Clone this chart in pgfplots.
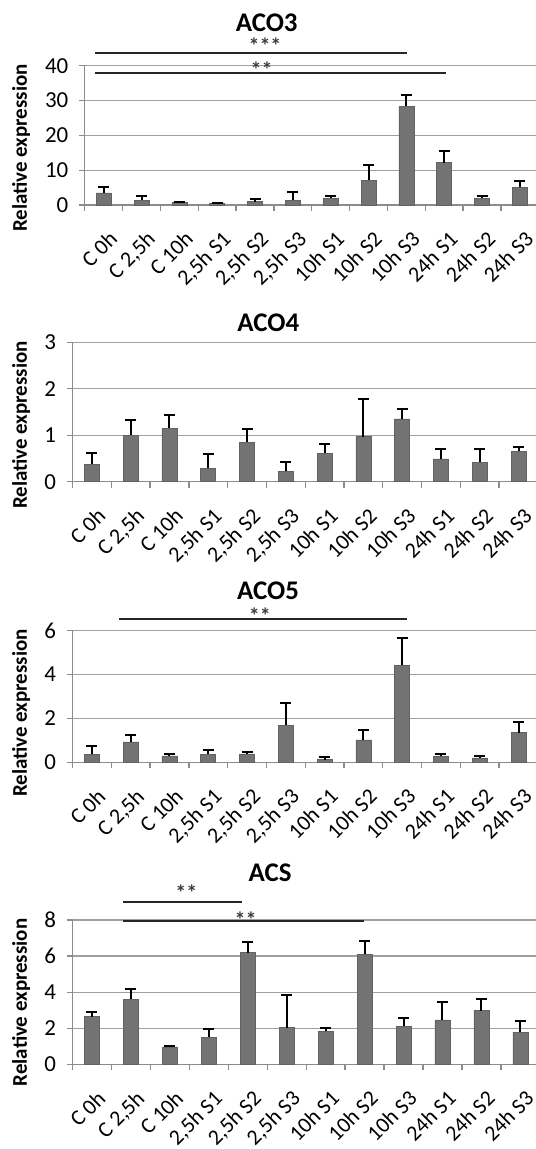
\documentclass[border=0pt]{standalone}
\usepackage{fontspec}
\setmainfont{Carlito}
\usepackage{pgfplots}
\pgfplotsset{compat=1.18}
\usepackage{pgfplotstable}

\definecolor{bargray}{RGB}{115,115,115}
\definecolor{axgray}{RGB}{140,140,140}
\definecolor{gridgray}{RGB}{160,160,160}
\definecolor{stargray}{RGB}{60,60,60}

\pgfplotstableread{
x y e
0 3.5 1.8
1 1.4 1.2
2 0.8 0.2
3 0.4 0.1
4 1.0 0.6
5 1.3 2.3
6 2.0 0.6
7 7.1 4.4
8 28.4 3.3
9 12.2 3.4
10 2.0 0.6
11 5.1 1.7
}\acoiii

\pgfplotstableread{
x y e
0 0.38 0.24
1 1.00 0.33
2 1.15 0.28
3 0.29 0.30
4 0.85 0.28
5 0.22 0.20
6 0.61 0.20
7 0.97 0.82
8 1.35 0.21
9 0.49 0.21
10 0.42 0.28
11 0.65 0.09
}\acoiv

\pgfplotstableread{
x y e
0 0.36 0.38
1 0.93 0.30
2 0.29 0.11
3 0.36 0.20
4 0.38 0.09
5 1.69 1.00
6 0.12 0.11
7 1.02 0.44
8 4.42 1.26
9 0.27 0.13
10 0.20 0.10
11 1.35 0.50
}\acov

\pgfplotstableread{
x y e
0 2.64 0.28
1 3.62 0.58
2 0.96 0.04
3 1.50 0.46
4 6.19 0.58
5 2.03 1.81
6 1.83 0.20
7 6.10 0.76
8 2.10 0.47
9 2.46 1.00
10 2.98 0.66
11 1.79 0.59
}\acs

\pgfplotsset{
  panel/.style={
    anchor=south west, scale only axis, ybar, bar width=15bp,
    xmin=-0.5, xmax=11.5, ymin=0, clip=false,
    axis x line*=bottom, axis y line*=left,
    axis line style={draw=axgray, line width=1.3bp, -},
    xtick={0,...,11},
    xticklabels={{C 0h},{C 2,5h},{C 10h},{2,5h S1},{2,5h S2},{2,5h S3},{10h S1},{10h S2},{10h S3},{24h S1},{24h S2},{24h S3}},
    major x tick style={draw=none},
    minor xtick={-0.5,0.5,...,11.5},
    minor x tick style={draw=axgray, line width=1.3bp},
    minor tick length=6bp, major tick length=6bp,
    tick align=outside,
    ytick style={draw=axgray, line width=1.3bp},
    ymajorgrids, major grid style={draw=gridgray, line width=1.3bp},
    /pgf/number format/assume math mode=true,
    xticklabel style={xshift=4bp, yshift=-14bp, rotate=45, anchor=north east, font=\fontsize{22}{22}\selectfont, text=black},
    yticklabel style={xshift=-7bp, font=\fontsize{23}{23}\selectfont, text=black},
  },
  barplot/.style={fill=bargray, draw=bargray!85!black, line width=0.5bp,
    error bars/.cd, y dir=plus, y explicit, error mark=|,
    error bar style={black, line width=2bp},
    error mark options={black, line width=2bp, mark size=5.5bp}},
}

\begin{document}
\begin{tikzpicture}
\path[use as bounding box] (0,0) rectangle (536bp,1149bp);

\begin{axis}[panel, at={(84.8bp,944bp)}, width=454bp, height=139.3bp, ymax=40, ytick={0,10,20,30,40}]
\addplot[barplot] table[x=x,y=y,y error=e]{\acoiii};
\end{axis}

\begin{axis}[panel, at={(72.5bp,667.3bp)}, width=465.4bp, height=139.4bp, ymax=3, ytick={0,1,2,3}]
\addplot[barplot] table[x=x,y=y,y error=e]{\acoiv};
\end{axis}

\begin{axis}[panel, at={(72.5bp,386.7bp)}, width=465.4bp, height=131.6bp, ymax=6, ytick={0,2,4,6}]
\addplot[barplot] table[x=x,y=y,y error=e]{\acov};
\end{axis}

\begin{axis}[panel, at={(72.5bp,84.7bp)}, width=467.3bp, height=144.3bp, ymax=8, ytick={0,2,4,6,8}]
\addplot[barplot] table[x=x,y=y,y error=e]{\acs};
\end{axis}

\tikzset{ttl/.style={font=\bfseries\fontsize{27}{27}\selectfont},
  ylab/.style={rotate=90, font=\bfseries\fontsize{21}{21}\selectfont},
  stars/.style={font=\bfseries\fontsize{22}{22}\selectfont, text=stargray, anchor=base},
  sig/.style={draw=black!85, line width=2bp}}
\node[ttl] at (266.7bp,1126bp) {ACO3};
\node[ttl] at (268.4bp,826.3bp) {ACO4};
\node[ttl] at (268bp,558.3bp) {ACO5};
\node[ttl] at (270bp,276bp) {ACS};

\node[ylab] at (21.2bp,1001bp) {Relative expression};
\node[ylab] at (21.2bp,724bp) {Relative expression};
\node[ylab] at (21.2bp,436bp) {Relative expression};
\node[ylab] at (21.2bp,146.5bp) {Relative expression};

\draw[sig] (95bp,1096.3bp) -- (406.8bp,1096.3bp);
\draw[sig] (95bp,1075.7bp) -- (446.2bp,1075.7bp);
\node[stars] at (265bp,1095bp) {***};
\node[stars] at (261.5bp,1071bp) {**};

\draw[sig] (119bp,529.7bp) -- (406.8bp,529.7bp);
\node[stars] at (259.8bp,525bp) {**};

\draw[sig] (122.5bp,246.5bp) -- (241.7bp,246.5bp);
\draw[sig] (122.5bp,227.5bp) -- (364.1bp,227.5bp);
\node[stars] at (186.3bp,248.5bp) {**};
\node[stars] at (245.5bp,221.5bp) {**};
\end{tikzpicture}
\end{document}
